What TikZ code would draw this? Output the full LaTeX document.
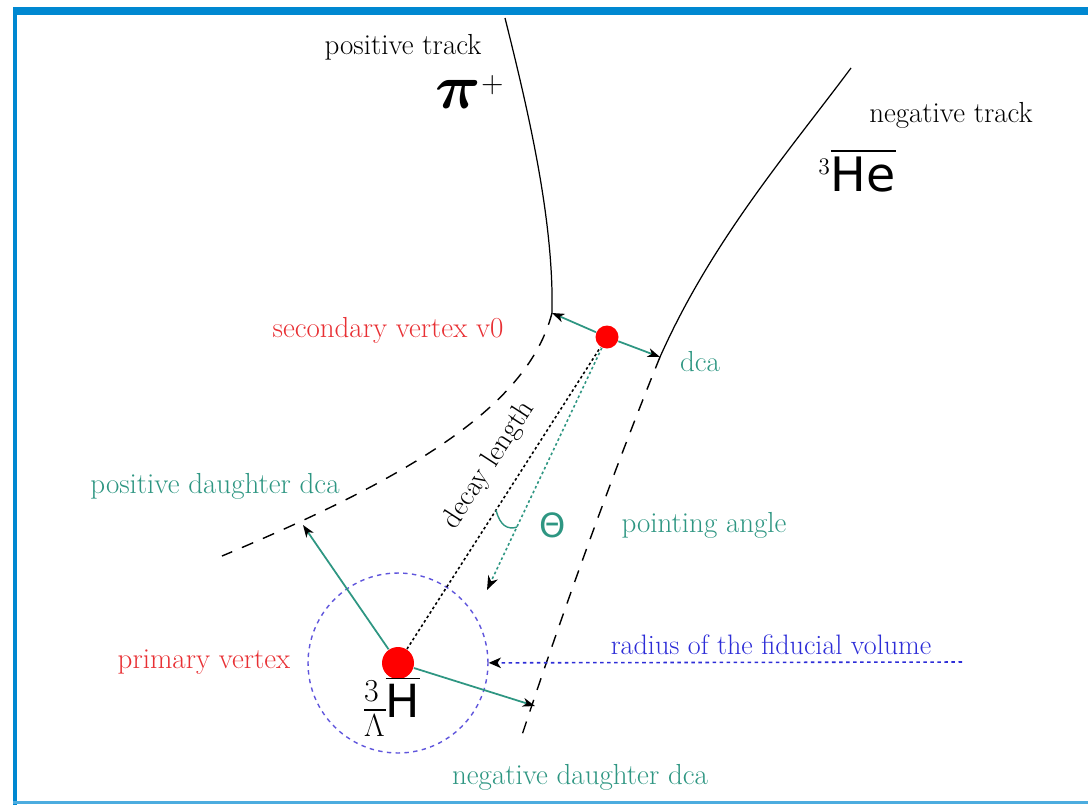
\RequirePackage{fix-cm}
\documentclass[tikz,border=0pt]{standalone}
\usepackage{amsmath}
\usepackage{fontspec}
\newfontfamily\hefont{DejaVu Sans}
\usepackage{tikz}
\usetikzlibrary{arrows.meta}

\definecolor{tealc}{RGB}{46,150,130}
\definecolor{redc}{RGB}{232,48,52}
\definecolor{bluec}{RGB}{45,45,215}
\definecolor{circc}{RGB}{95,85,220}
\definecolor{framec}{RGB}{0,136,209}

\begin{document}
\begin{tikzpicture}[x=0.02cm,y=-0.02cm,line width=0.7pt,
    lbl/.style={font=\fontsize{16.5}{19}\selectfont,inner sep=0pt},
    vertex/.style={circle,fill=red,inner sep=0pt},
    track/.style={line width=0.7pt},
    ghost/.style={line width=0.8pt,dash pattern=on 7pt off 6pt},
    dcaarrow/.style={tealc,line width=1pt,-{Stealth[black,length=7pt,width=5pt,inset=2pt]}},
    fiducial/.style={circle,draw=circc,dash pattern=on 2.5pt off 2.5pt,line width=0.8pt,minimum size=3.6cm,inner sep=0pt}]
  \useasboundingbox (0,0) rectangle (1088,805);
  % frame
  \fill[framec] (13,7) rectangle (1088,15);
  \fill[framec] (13,7) rectangle (16.5,805);
  \fill[framec!70!white] (13,801) rectangle (1088,803.5);

  % vertices
  \node[fiducial] (fv) at (398,663) {};
  \node[vertex,minimum size=0.64cm] (pv) at (398,663) {};
  \node[vertex,minimum size=0.46cm] (sv) at (607,337) {};

  % track ends
  \coordinate (pend) at (552,313);
  \coordinate (nend) at (660,357);
  \coordinate (pdca) at (303,525);
  \coordinate (ndca) at (535,706);
  \coordinate (pa) at (487,590);
  \coordinate (fidR) at (962,662);

  % tracks
  \draw[track] (505,18) .. controls (528,110) and (554,220) .. (pend);
  \draw[track] (851,68) .. controls (790,150) and (712,240) .. (nend);
  \draw[ghost] (pend) .. controls (528,405) and (415,475) .. (222,556);
  \draw[ghost] (nend) .. controls (610,480) and (560,620) .. (522,735);

  % dca
  \draw[dcaarrow] (sv) -- (pend);
  \draw[dcaarrow] (sv) -- (nend);
  \draw[dcaarrow] (pv) -- (pdca);
  \draw[dcaarrow] (pv) -- (ndca);

  % decay length and pointing angle
  \draw[line width=0.9pt,dash pattern=on 1.5pt off 1.5pt] (pv) -- (sv);
  \draw[tealc,line width=0.9pt,dash pattern=on 1.5pt off 1.5pt,-{Stealth[black,length=8pt,width=6pt,inset=2.5pt]}] (sv) -- (pa);
  \draw[tealc,line width=0.8pt] (496,510) .. controls (500,526) and (508,530) .. (517,527);

  % fiducial radius
  \draw[bluec,line width=0.9pt,dash pattern=on 2pt off 2pt,-{Stealth[black,length=7pt,width=6pt,inset=2pt]}] (fidR) -- (fv);

  % labels
  \node[lbl] (lpos) at (403,47) {positive track};
  \node[inner sep=0pt,font=\fontsize{24}{28}\selectfont] (lpi) at (470,92) {{\fontsize{36}{38}\selectfont\boldmath$\pi$}$^{+}$};
  \node[lbl] (lneg) at (951,115) {negative track};
  \node[inner sep=0pt,font=\fontsize{27}{30}\selectfont] (lhe) at (857,170) {$^{\scriptscriptstyle 3}\overline{\text{\hefont He}}$};
  \node[lbl,redc] (lsv) at (388,330) {secondary vertex v0};
  \node[lbl,tealc] (ldca) at (700,362) {dca};
  \node[lbl,tealc] (lpdd) at (215,486) {positive daughter dca};
  \node[lbl,rotate=57] (ldl) at (489,465) {decay length};
  \node[inner sep=0pt,tealc,font=\hefont\fontsize{19}{22}\selectfont] (lth) at (553,525) {Θ};
  \node[lbl,tealc] (lpa) at (704,525) {pointing angle};
  \node[lbl,redc] (lpv) at (204,662) {primary vertex};
  \node[lbl,bluec,font=\fontsize{16}{19}\selectfont] (lfid) at (771,645) {radius of the fiducial volume};
  \node[inner sep=0pt,font=\fontsize{26}{28}\selectfont] (lhyp) at (392,706) {$^{3}_{\overline{\Lambda}}\overline{\text{\hefont H}}$};
  \node[lbl,tealc] (lndd) at (580,777) {negative daughter dca};
\end{tikzpicture}
\end{document}
